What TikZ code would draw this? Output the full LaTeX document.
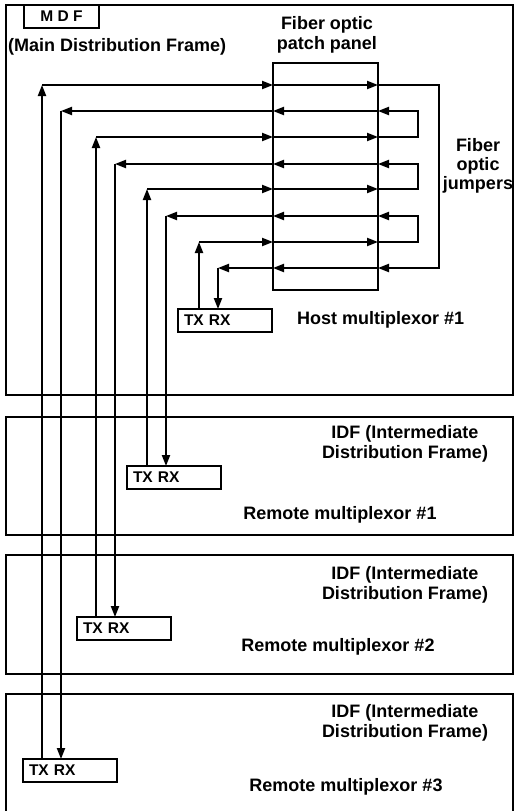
\documentclass[tikz,border=0pt]{standalone}
\usepackage{fontspec}
\setmainfont{Liberation Sans}
\usetikzlibrary{arrows.meta}
\begin{document}
\begin{tikzpicture}[x=1pt,y=-1pt,
  lw/.style={line width=2pt},
  frame/.style={draw, lw, anchor=north west, inner sep=0pt, outer sep=0pt},
  arr/.style={lw, -{Triangle[length=11pt,width=8pt]}},
  big/.style={font=\fontsize{18}{20}\selectfont\bfseries, inner sep=0pt, align=center},
  small/.style={font=\fontsize{15.5}{17}\selectfont\bfseries},
  txbox/.style={draw, lw, anchor=north west, minimum height=23pt, text width=82pt,
    inner xsep=6pt, inner ysep=0pt, outer sep=0pt, align=left,
    font=\fontsize{15.5}{17}\selectfont\bfseries}
]
\useasboundingbox (0,0) rectangle (517,811);
% frames
\node[frame, minimum width=507pt, minimum height=390pt] (mdf) at (6,5) {};
\node[frame, minimum width=507pt, minimum height=118pt] (idf1) at (6,417) {};
\node[frame, minimum width=507pt, minimum height=119pt] (idf2) at (6,555) {};
\node[frame, minimum width=507pt, minimum height=140pt] (idf3) at (6,694) {};
\node[frame, small, minimum width=75pt, minimum height=23pt] (mdfbox) at (24,5) {M D F};
% labels
\node[big, anchor=west] (mdfname) at (8,47) {(Main Distribution Frame)};
\node[big] (pplabel) at (327,35) {Fiber optic\\patch panel};
\node[big, font=\fontsize{18}{19}\selectfont\bfseries] (jlabel) at (478,166) {Fiber\\optic\\jumpers};
\node[big, anchor=west] (host) at (297,320) {Host multiplexor \#1};
\node[big] (idf1t) at (405,444) {IDF (Intermediate\\Distribution Frame)};
\node[big] (rm1) at (340,515) {Remote multiplexor \#1};
\node[big] (idf2t) at (405,585) {IDF (Intermediate\\Distribution Frame)};
\node[big] (rm2) at (338,647) {Remote multiplexor \#2};
\node[big] (idf3t) at (405,723) {IDF (Intermediate\\Distribution Frame)};
\node[big] (rm3) at (346,787) {Remote multiplexor \#3};
% patch panel
\node[frame, minimum width=105pt, minimum height=227pt] (panel) at (273,63) {};
% TX RX boxes
\node[txbox] (hbox) at (178,309) {TX RX};
\node[txbox] (b1) at (127,466) {TX RX};
\node[txbox] (b2) at (77,617) {TX RX};
\node[txbox] (b3) at (23,759) {TX RX};
% corner coordinates
\coordinate (c1) at (42,85);
\coordinate (c2) at (61,111);
\coordinate (c3) at (96,137);
\coordinate (c4) at (115,164);
\coordinate (c5) at (147,189);
\coordinate (c6) at (166,216);
\coordinate (c7) at (199,242);
\coordinate (c8) at (218,268);
\coordinate (j) at (418,0);
\coordinate (jo) at (439,0);
% row 1 -> row 8 (outer jumper)
\draw[arr] (b3.north -| c1) -- (c1);
\draw[arr] (c1) -- (panel.west |- c1);
\draw[arr] (panel.west |- c1) -- (panel.east |- c1);
\draw[arr] (panel.east |- c1) -- (jo |- c1) -- (jo |- c8) -- (panel.east |- c8);
\draw[arr] (panel.east |- c8) -- (panel.west |- c8);
\draw[arr] (panel.west |- c8) -- (c8);
\draw[arr] (c8) -- (hbox.north -| c8);
% row 3 -> row 2
\draw[arr] (b2.north -| c3) -- (c3);
\draw[arr] (c3) -- (panel.west |- c3);
\draw[arr] (panel.west |- c3) -- (panel.east |- c3);
\draw[arr] (panel.east |- c3) -- (j |- c3) -- (j |- c2) -- (panel.east |- c2);
\draw[arr] (panel.east |- c2) -- (panel.west |- c2);
\draw[arr] (panel.west |- c2) -- (c2);
\draw[arr] (c2) -- (b3.north -| c2);
% row 5 -> row 4
\draw[arr] (b1.north -| c5) -- (c5);
\draw[arr] (c5) -- (panel.west |- c5);
\draw[arr] (panel.west |- c5) -- (panel.east |- c5);
\draw[arr] (panel.east |- c5) -- (j |- c5) -- (j |- c4) -- (panel.east |- c4);
\draw[arr] (panel.east |- c4) -- (panel.west |- c4);
\draw[arr] (panel.west |- c4) -- (c4);
\draw[arr] (c4) -- (b2.north -| c4);
% row 7 -> row 6
\draw[arr] (hbox.north -| c7) -- (c7);
\draw[arr] (c7) -- (panel.west |- c7);
\draw[arr] (panel.west |- c7) -- (panel.east |- c7);
\draw[arr] (panel.east |- c7) -- (j |- c7) -- (j |- c6) -- (panel.east |- c6);
\draw[arr] (panel.east |- c6) -- (panel.west |- c6);
\draw[arr] (panel.west |- c6) -- (c6);
\draw[arr] (c6) -- (b1.north -| c6);
\end{tikzpicture}
\end{document}
